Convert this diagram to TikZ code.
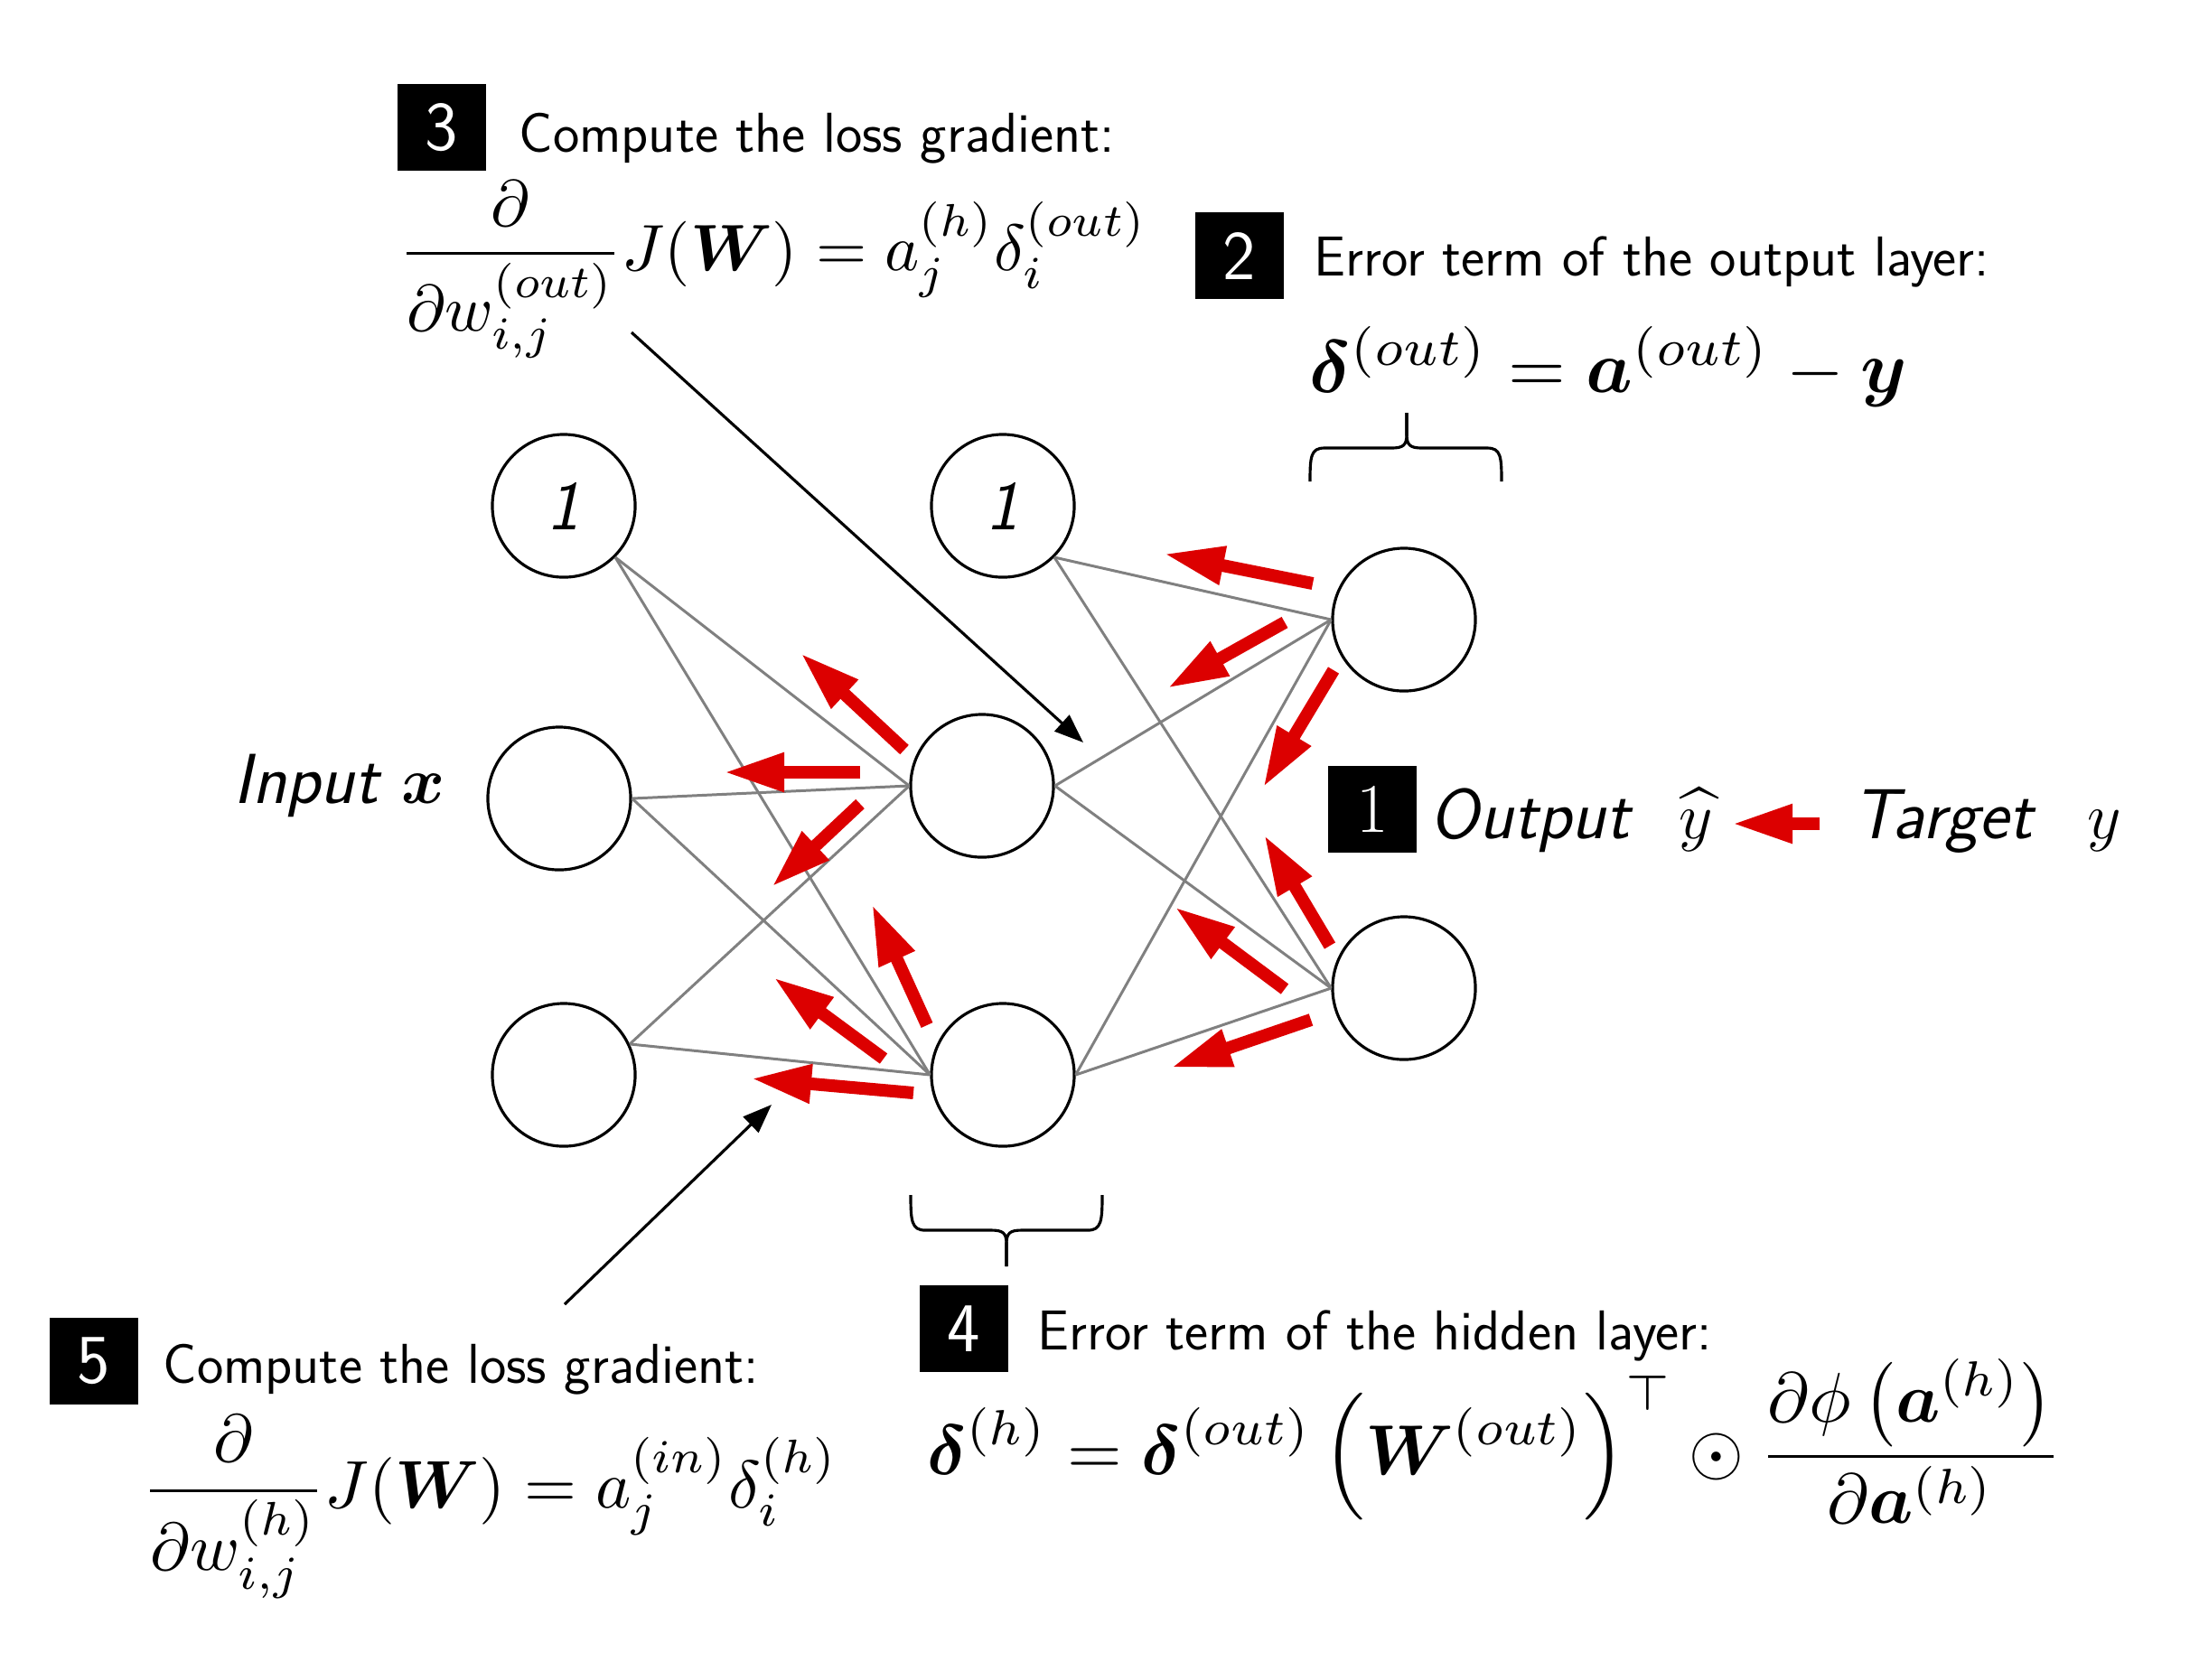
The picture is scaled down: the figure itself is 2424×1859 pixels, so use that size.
\documentclass[tikz,border=0pt]{standalone}
\usepackage{amsmath,amssymb,bm}
\usetikzlibrary{arrows.meta}
\definecolor{arrred}{RGB}{220,0,0}
\definecolor{edgegray}{RGB}{128,128,128}
\begin{document}
\begin{tikzpicture}[x=0.01cm,y=-0.01cm,
  neuron/.style={circle,draw=black,line width=0.9pt,minimum size=1.58cm,inner sep=0pt,fill=white},
  biasnode/.style={neuron,font=\fontsize{22}{22}\selectfont\sffamily\itshape},
  edge/.style={draw=edgegray,line width=0.85pt},
  back/.style={draw=arrred,line width=0.14cm,-{Triangle[length=0.67cm,width=0.40cm]}},
  pointer/.style={draw=black,line width=0.9pt,-{Triangle[length=0.32cm,width=0.24cm]}},
  bracestyle/.style={draw=black,line width=0.9pt},
  numbox/.style={fill=black,text=white,minimum width=0.97cm,minimum height=0.96cm,inner sep=0pt,font=\fontsize{22}{22}\selectfont\sffamily},
  caption/.style={anchor=base west,inner sep=0pt,font=\fontsize{17.7}{20}\selectfont\sffamily},
  lbl/.style={anchor=base west,inner sep=0pt,font=\fontsize{22.3}{26}\selectfont\sffamily\itshape},
  mlbl/.style={anchor=base west,inner sep=0pt,font=\fontsize{22}{26}\selectfont},
  eqthree/.style={anchor=base west,inner sep=0pt,font=\fontsize{10}{12}\selectfont,scale=2.06,transform shape},
  eqfive/.style={anchor=base west,inner sep=0pt,font=\fontsize{10}{12}\selectfont,scale=2.12,transform shape},
  eqbig/.style={anchor=base west,inner sep=0pt,font=\fontsize{10}{12}\selectfont,scale=2.33,transform shape},
  eqwide/.style={anchor=base west,inner sep=0pt,font=\fontsize{10}{12}\selectfont,scale=2.22,transform shape}]
\useasboundingbox (0,0) rectangle (2424,1859);

% neurons
\node[biasnode] (i0) at (624,560) {1};
\node[neuron] (i1) at (619,884) {};
\node[neuron] (i2) at (624,1190) {};
\node[biasnode] (h0) at (1110,560) {1};
\node[neuron] (h1) at (1087,870) {};
\node[neuron] (h2) at (1110,1190) {};
\node[neuron] (o1) at (1554,686) {};
\node[neuron] (o2) at (1554,1094) {};

% weights
\foreach \s in {i0.-45,i1.east,i2.25}
  \foreach \t in {h1.west,h2.west}
    \draw[edge] (\s) -- (\t);
\foreach \s in {h0.-45,h1.east,h2.east}
  \foreach \t in {o1.west,o2.west}
    \draw[edge] (\s) -- (\t);

% backpropagation arrows
\foreach \n/\xa/\ya/\xb/\yb in {
  1/1001/830/886/723, 2/952/855/801/855, 3/952/890/854/982,
  4/1026/1135/965/1001, 5/978/1172/856/1082, 6/1011/1210/831/1194,
  7/1453/646/1288/613, 8/1422/689/1292/762, 9/1476/742/1398/872,
  10/1472/1047/1399/924, 11/1422/1095/1300/1004, 12/1451/1129/1296/1182}{
  \coordinate (r\n s) at (\xa,\ya);
  \coordinate (r\n e) at (\xb,\yb);
  \draw[back] (r\n s) -- (r\n e);
}

% labels
\node[lbl] (inlbl) at (258,889) {Input $\boldsymbol{x}$};

\node[numbox] (b1) at (1519,896) {\rmfamily\upshape 1};
\node[lbl] (outlbl) at (1582,928) {Output};
\node[mlbl] (yhat) at (1858,928) {$\widehat{y}$};
\coordinate (ta) at (2014,912);
\coordinate (tb) at (1917,912);
\draw[back] (ta) -- (tb);
\node[lbl] (tgtlbl) at (2050,928) {Target};
\node[mlbl] (ytgt) at (2310,928) {$y$};

% step 3
\node[numbox] (b3) at (489,141) {3};
\node[caption] (t3) at (574,168) {Compute the loss gradient:};
\node[eqthree] (e3) at (440,299) {$\displaystyle\frac{\partial}{\partial w_{i,j}^{(out)}}J(\boldsymbol{W}) = a_j^{(h)}\delta_i^{(out)}$};

% step 2
\node[numbox] (b2) at (1372,283) {2};
\node[caption] (t2) at (1454,305) {Error term of the output layer:};
\node[eqbig] (e2) at (1448,434) {$\boldsymbol{\delta}^{(out)} = \boldsymbol{a}^{(out)} - \boldsymbol{y}$};

% step 4
\node[numbox] (b4) at (1067,1471) {4};
\node[caption] (t4) at (1148,1494) {Error term of the hidden layer:};
\node[eqwide] (e4) at (1025,1632) {$\displaystyle\boldsymbol{\delta}^{(h)} = \boldsymbol{\delta}^{(out)}\,\Bigl(\boldsymbol{W}^{(out)}\Bigr)^{\top}\odot\frac{\partial\phi\left(\boldsymbol{a}^{(h)}\right)}{\partial\boldsymbol{a}^{(h)}}$};

% step 5
\node[numbox] (b5) at (104,1507) {5};
\node[caption] (t5) at (180,1531) {Compute the loss gradient:};
\node[eqfive] (e5) at (156,1669) {$\displaystyle\frac{\partial}{\partial w_{i,j}^{(h)}}J(\boldsymbol{W}) = a_j^{(in)}\delta_i^{(h)}$};

% pointer arrows
\coordinate (a3s) at (699,368);
\coordinate (a3e) at (1199,822);
\draw[pointer] (a3s) -- (a3e);
\coordinate (a5s) at (625,1444);
\coordinate (a5e) at (854,1223);
\draw[pointer] (a5s) -- (a5e);

% braces
\coordinate (tbl) at (1450,533);
\coordinate (tbt) at (1557,457);
\coordinate (tbr) at (1662,533);
\draw[bracestyle] (tbl) .. controls (1450,505) and (1451,496) .. (1466,496) -- (1540,496) .. controls (1553,496) and (1557,493) .. (1557,481) -- (tbt);
\draw[bracestyle] (tbr) .. controls (1662,505) and (1661,496) .. (1646,496) -- (1574,496) .. controls (1561,496) and (1557,493) .. (1557,481) -- (tbt);
\coordinate (bbl) at (1008,1323);
\coordinate (bbt) at (1114,1402);
\coordinate (bbr) at (1220,1323);
\draw[bracestyle] (bbl) .. controls (1008,1352) and (1009,1362) .. (1024,1362) -- (1097,1362) .. controls (1110,1362) and (1114,1365) .. (1114,1377) -- (bbt);
\draw[bracestyle] (bbr) .. controls (1220,1352) and (1219,1362) .. (1204,1362) -- (1131,1362) .. controls (1118,1362) and (1114,1365) .. (1114,1377) -- (bbt);
\end{tikzpicture}
\end{document}
